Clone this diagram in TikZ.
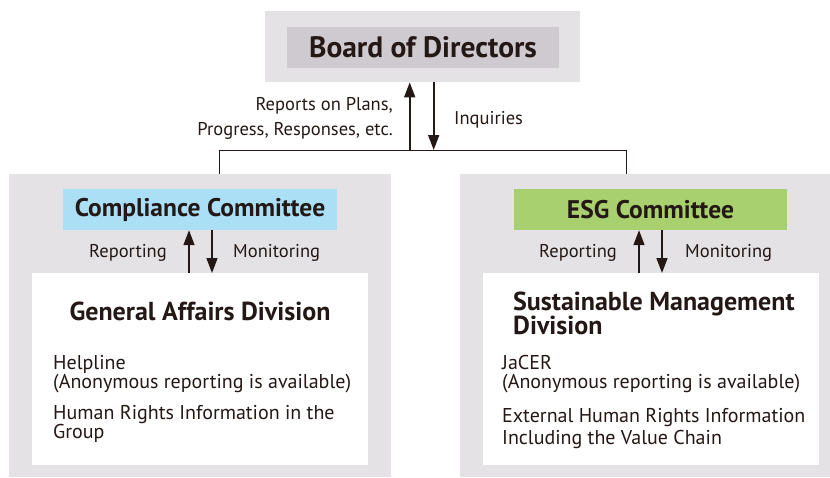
\documentclass[tikz,border=0pt]{standalone}
\usepackage{fontspec}
\setmainfont{PT Sans}
\usetikzlibrary{arrows.meta}
\definecolor{ink}{HTML}{231815}
\definecolor{panel}{HTML}{E5E2E6}
\definecolor{boardgray}{HTML}{CFCACF}
\definecolor{compblue}{HTML}{AADFF5}
\definecolor{esggreen}{HTML}{A9D06E}
\tikzset{
  panelbox/.style={fill=panel, draw=none, anchor=north west, inner sep=0pt},
  whitebox/.style={fill=white, draw=none, anchor=north west, inner sep=0pt},
  headbox/.style={draw=none, inner sep=0pt, minimum height=41pt, text=ink,
    font=\fontsize{25.5}{28}\selectfont\bfseries},
  flowarrow/.style={draw=ink, line width=1.6pt, -{Triangle[length=15pt,width=11pt]}},
  busline/.style={draw=ink, line width=0.8pt},
  flowlabel/.style={text=ink, inner sep=0pt, font=\fontsize{18.5}{25}\selectfont},
  divtitle/.style={text=ink, inner sep=0pt, font=\fontsize{26}{24}\selectfont\bfseries},
  itemtext/.style={text=ink, inner sep=0pt, align=left, font=\fontsize{20}{19}\selectfont}
}
\begin{document}
\begin{tikzpicture}[x=1pt, y=-1pt]
\useasboundingbox (0,0) rectangle (830,477);

% Board of Directors
\node[panelbox, minimum width=315pt, minimum height=71pt] (bodpanel) at (265,11) {};
\node[headbox, fill=boardgray, minimum width=272pt, font=\fontsize{29.5}{32}\selectfont\bfseries] (bod) at (423,47) {Board of Directors};

% left and right panels
\node[panelbox, minimum width=382pt, minimum height=303pt] (leftpanel) at (9,174) {};
\node[panelbox, minimum width=370pt, minimum height=303pt] (rightpanel) at (460,174) {};

% committees
\node[headbox, fill=compblue, minimum width=274pt] (comp) at (200,209.5) {Compliance Committee};
\node[headbox, fill=esggreen, minimum width=273pt] (esg) at (650.5,209.5) {ESG Committee};

% divisions
\node[whitebox, minimum width=336pt, minimum height=192pt] (gad) at (32,273) {};
\node[whitebox, minimum width=336pt, minimum height=192pt] (smd) at (483,273) {};

% bus from the board to the two panels
\coordinate (busL) at (219,150);
\coordinate (busR) at (626,150);
\draw[busline] (busL |- leftpanel.north) -- (busL) -- (busR) -- (busR |- leftpanel.north);
\draw[flowarrow] ([xshift=-13pt]bodpanel.south |- busL) -- ([xshift=-13pt]bodpanel.south);
\draw[flowarrow] ([xshift=11pt]bodpanel.south) -- ([xshift=11pt]bodpanel.south |- busL);
\node[flowlabel, anchor=base east, align=right] (reports) at (393,135) {Reports on Plans,\\Progress, Responses, etc.};
\node[flowlabel, anchor=base west] (inq) at (454,124) {Inquiries};

% compliance side
\draw[flowarrow] ([xshift=-11pt]gad.north -| comp.south) -- ([xshift=-11pt]comp.south);
\draw[flowarrow] ([xshift=12pt]comp.south) -- ([xshift=12pt]gad.north -| comp.south);
\node[flowlabel, anchor=base east] (repL) at (167,257) {Reporting};
\node[flowlabel, anchor=base west] (monL) at (233,257) {Monitoring};

% ESG side
\draw[flowarrow] ([xshift=-11.5pt]smd.north -| esg.south) -- ([xshift=-11.5pt]esg.south);
\draw[flowarrow] ([xshift=11.5pt]esg.south) -- ([xshift=11.5pt]smd.north -| esg.south);
\node[flowlabel, anchor=base east] (repR) at (617,257) {Reporting};
\node[flowlabel, anchor=base west] (monR) at (685,257) {Monitoring};

% text in the divisions
\node[divtitle, anchor=base] (gadtitle) at (200,320) {General Affairs Division};
\node[itemtext, anchor=base west] (helpline) at (53,388) {Helpline\\(Anonymous reporting is available)};
\node[itemtext, anchor=base west] (hrgroup) at (53,438) {Human Rights Information in the\\Group};

\node[divtitle, anchor=base west, align=left] (smdtitle) at (513,334) {Sustainable Management\\Division};
\node[itemtext, anchor=base west] (jacer) at (502,388) {JaCER\\(Anonymous reporting is available)};
\node[itemtext, anchor=base west, font=\fontsize{20}{22}\selectfont] (hrchain) at (502,444) {External Human Rights Information\\Including the Value Chain};
\end{tikzpicture}
\end{document}
